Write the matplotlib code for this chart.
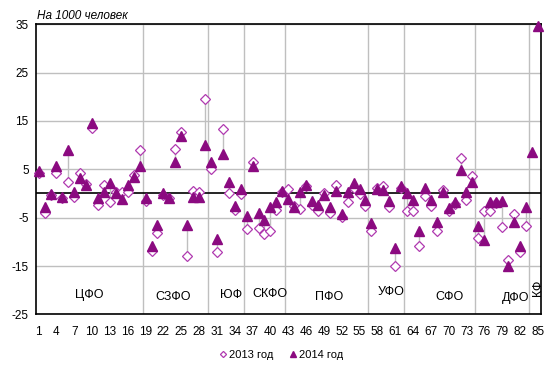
import numpy as np
import matplotlib
matplotlib.use("Agg")
import matplotlib.pyplot as plt

plt.rcParams['font.family'] = ['Liberation Sans', 'DejaVu Sans']

nan = np.nan
regions = list(range(1, 86))
y2013 = [4.2, -4.0, -0.3, 4.2, -0.9, 2.4, -0.7, 4.3, 2.0, 13.5,
         -2.4, 1.7, -1.7, 0.3, 0.3, 0.3, 3.9, 9.0, -1.6, -11.8,
         -8.2, -0.3, -1.0, 9.2, 12.8, -12.9, 0.6, 0.3, 19.5, 5.1,
         -12.1, 13.3, 0.1, -3.5, -0.2, -7.3, 6.4, -7.1, -8.4, -7.7,
         -3.4, 0.3, 1.0, -2.6, -3.2, 1.5, -2.4, -3.6, 0.1, -4.0,
         1.7, -4.9, -1.7, 1.2, -0.1, -2.6, -7.7, 1.2, 1.5, -2.8,
         -14.9, 1.2, -3.6, -3.6, -10.8, -0.6, -2.5, -7.7, 0.75, -3.7,
         -2.2, 7.4, -1.3, 3.6, -9.2, -3.7, -3.6, -2.0, -7.0, -13.8,
         -4.2, -12.1, -6.8, nan, nan]
y2014 = [4.7, -2.9, -0.2, 5.6, -0.75, 9.0, 0.2, 3.2, 1.8, 14.5,
         -0.9, 0.3, 2.1, 0.1, -1.1, 1.8, 3.4, 5.6, -0.9, -10.8,
         -6.5, 0.1, -0.9, 6.4, 11.8, -6.5, -0.7, -0.7, 10.1, 6.6,
         -9.5, 8.2, 2.3, -2.5, 1.0, -4.7, 5.6, -4.1, -5.5, -2.8,
         -1.8, 0.5, -1.2, -2.9, 0.3, 1.8, -1.5, -2.3, -0.3, -2.9,
         0.5, -4.2, 0.3, 2.1, 1.0, -1.4, -6.1, 1.0, 0.8, -1.6,
         -11.2, 1.5, 0.0, -1.4, -7.8, 1.1, -1.4, -6.0, 0.4, -3.0,
         -1.8, 4.9, 0.3, 2.3, -6.8, -9.6, -1.8, -1.8, -1.5, -15.0,
         -5.8, -10.8, -2.9, 8.6, 34.6]
# last region index of each federal district
district_ends = [18, 29, 35, 42, 56, 62, 74, 83]
district_names = ['ЦФО', 'СЗФО', 'ЮФ', 'СКФО', 'ПФО', 'УФО', 'СФО', 'ДФО', 'КФ']
district_label_x = [9.5, 23.6, 33.4, 39.9, 49.9, 60.3, 70.1, 81.2, 85.0]
district_label_y = [-20.9, -21.3, -20.9, -20.7, -21.3, -20.3, -21.3, -21.7, -19.6]
yticks = [-25, -15, -5, 5, 15, 25, 35]
xtick_labels = list(range(1, 86, 3))

x = np.array(regions)
a = np.array(y2013, dtype=float)
b = np.array(y2014, dtype=float)

fig = plt.figure(figsize=(5.55, 3.77), dpi=100)
ax = fig.add_axes([0.0643, 0.166, 0.9100, 0.770])

ax.set_xlim(0.5, 85.5)
ax.set_ylim(-25, 35)
ax.set_yticks(yticks)
ax.set_yticklabels([str(t) for t in yticks], fontsize=8.5)
ax.set_xticks(xtick_labels)
ax.set_xticklabels([str(t) for t in xtick_labels], fontsize=8.5)
ax.tick_params(axis='y', length=0, pad=5)
ax.tick_params(axis='x', length=0, pad=8)
ax.yaxis.grid(True, color='#BFBFBF', linewidth=1.0)
ax.set_axisbelow(True)
for e in district_ends:
    ax.axvline(e + 0.5, color='#BFBFBF', linewidth=1.0, zorder=0.5)
ax.axhline(0, color='black', linewidth=1.2, zorder=1)

# high-low lines
mask = ~np.isnan(a) & ~np.isnan(b)
ax.vlines(x[mask], np.minimum(a, b)[mask], np.maximum(a, b)[mask],
          color='#BFBFBF', linewidth=1.0, zorder=2)

ax.plot(x, a, linestyle='none', marker='D', markersize=5.2,
        markerfacecolor='white', markeredgecolor='#B03AB0',
        markeredgewidth=0.9, label='2013 год', zorder=3, clip_on=False)
ax.plot(x, b, linestyle='none', marker='^', markersize=7.2,
        markerfacecolor='#8B0A80', markeredgecolor='#8B0A80',
        label='2014 год', zorder=4, clip_on=False)

for sp in ax.spines.values():
    sp.set_color('black')
    sp.set_linewidth(1.2)

for name, lx, ly in zip(district_names, district_label_x, district_label_y):
    rot = 90 if name == 'КФ' else 0
    ax.text(lx, ly, name, ha='center', va='center', fontsize=9, rotation=rot, zorder=5)

fig.text(0.066, 0.958, 'На 1000 человек', fontsize=8.5, style='italic',
         ha='left', va='center')

fig.legend(loc='center', bbox_to_anchor=(0.505, 0.058), ncol=2, frameon=False,
           fontsize=8, handletextpad=0.1, columnspacing=1.2, markerscale=0.6,
           handlelength=1.0)

fig.savefig('out.png', dpi=100)
